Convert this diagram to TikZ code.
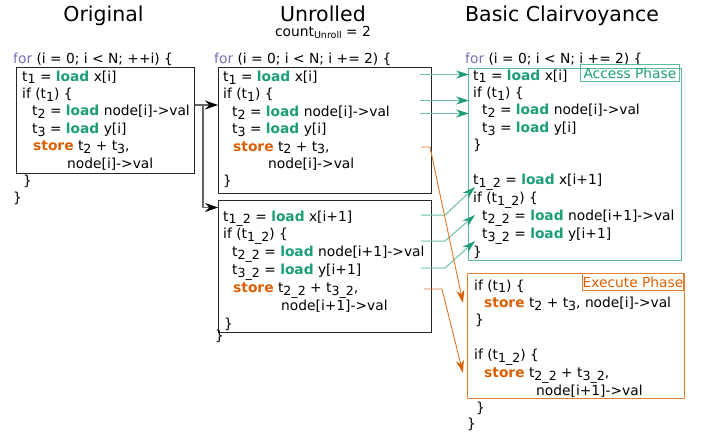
\documentclass[tikz,border=0pt]{standalone}
\usepackage{fontspec}
\setmainfont{DejaVu Sans}
\usetikzlibrary{arrows.meta}
\definecolor{dgreen}{HTML}{1B9E77}
\definecolor{dorange}{HTML}{D95F02}
\definecolor{dpurple}{HTML}{7570B3}
\newcommand{\kld}{\textbf{\color{dgreen}load}}
\newcommand{\kst}{\textbf{\color{dorange}store}}
\newcommand{\kfor}{{\color{dpurple}for}}
\newcommand{\sbx}[1]{\raisebox{-2.8pt}{\fontsize{12.6}{12}\selectfont #1}}
\newcommand{\ind}[1]{\hspace*{#1pt}}
\begin{document}
\begin{tikzpicture}[x=1pt,y=-1pt,
  code/.style={anchor=base west, inner sep=0pt, font=\fontsize{13.8}{17.4}\selectfont},
  title/.style={anchor=base, inner sep=0pt, font=\fontsize{20.5}{24}\selectfont},
  blk/.style={draw=black!85, line width=0.9pt, anchor=north west, inner sep=0pt},
  accbox/.style={draw=dgreen!70, line width=0.9pt, anchor=north west, inner sep=0pt},
  exebox/.style={draw=dorange!80, line width=0.9pt, anchor=north west, inner sep=0pt},
  tag/.style={line width=0.9pt, anchor=north west, inner sep=0pt, font=\fontsize{13.8}{17}\selectfont},
  conn/.style={draw=black!60, line width=1.1pt, -{Stealth[length=13pt,width=9pt,color=black]}},
  gconn/.style={draw=dgreen!65, line width=1pt, -{Stealth[length=13pt,width=8pt,color=dgreen]}},
  oconn/.style={draw=dorange!85, line width=0.9pt, -{Stealth[length=13pt,width=8pt,color=dorange]}}
]
\useasboundingbox (0,0) rectangle (702,434);

% titles
\node[title] (t-orig) at (103.5,21.5) {Original};
\node[title] (t-unr) at (323,21.5) {Unrolled};
\node[code, anchor=base] (t-count) at (323,36) {count\raisebox{-2.5pt}{\fontsize{9.5}{10}\selectfont Unroll} = 2};
\node[title] (t-bc) at (562,21.5) {Basic Clairvoyance};

% ---------- Original ----------
\node[code] (o-for) at (13,63) {\kfor{} (i = 0; i < N; ++i) \{};
\node[blk, minimum width=178pt, minimum height=106pt] (obox) at (16,67) {};
\node[code] (o-code) at (22,81) {\begin{tabular}[t]{@{}l@{}}
t\sbx{1} = \kld{} x[i]\\
if (t\sbx{1}) \{\\
\ind{10}t\sbx{2} = \kld{} node[i]->val\\
\ind{10}t\sbx{3} = \kld{} y[i]\\
\ind{11}\kst{} t\sbx{2} + t\sbx{3},\\
\ind{45}node[i]->val\\
\ind{1}\}
\end{tabular}};
\node[code] (o-end) at (13,202.8) {\}};

% ---------- Unrolled ----------
\node[code] (u-for) at (214,63) {\kfor{} (i = 0; i < N; i += 2) \{};
\node[blk, minimum width=213pt, minimum height=126pt] (ubox1) at (218,67) {};
\node[code] (u-code1) at (223,81.5) {\begin{tabular}[t]{@{}l@{}}
t\sbx{1} = \kld{} x[i]\\
if (t\sbx{1}) \{\\
\ind{9}t\sbx{2} = \kld{} node[i]->val\\
\ind{9}t\sbx{3} = \kld{} y[i]\\
\ind{10}\kst{} t\sbx{2} + t\sbx{3},\\
\ind{45}node[i]->val\\
\}
\end{tabular}};
\node[blk, minimum width=213pt, minimum height=132pt] (ubox2) at (218,200) {};
\node[code] (u-code2) at (223,221) {\begin{tabular}[t]{@{}l@{}}
t\sbx{1\_2} = \kld{} x[i+1]\\
if (t\sbx{1\_2}) \{\\
\ind{9}t\sbx{2\_2} = \kld{} node[i+1]->val\\
\ind{9}t\sbx{3\_2} = \kld{} y[i+1]\\
\ind{10}\kst{} t\sbx{2\_2} + t\sbx{3\_2},\\
\ind{58}node[i+1]->val\\
\ind{1}\}
\end{tabular}};
\node[code] (u-end) at (215,340) {\}};

% ---------- Basic Clairvoyance ----------
\node[code] (b-for) at (465,63) {\kfor{} (i = 0; i < N; i += 2) \{};
\node[accbox, minimum width=213pt, minimum height=192pt] (acc) at (468,68) {};
\node[tag, draw=dgreen!70, text=dgreen, minimum width=99pt, minimum height=17pt] (acc-tag) at (580,64) {Access Phase};
\node[code] (a-code) at (473,80) {\begin{tabular}[t]{@{}l@{}}
t\sbx{1} = \kld{} x[i]\\
if (t\sbx{1}) \{\\
\ind{9}t\sbx{2} = \kld{} node[i]->val\\
\ind{9}t\sbx{3} = \kld{} y[i]\\
\}\\
\\
t\sbx{1\_2} = \kld{} x[i+1]\\
if (t\sbx{1\_2}) \{\\
\ind{9}t\sbx{2\_2} = \kld{} node[i+1]->val\\
\ind{9}t\sbx{3\_2} = \kld{} y[i+1]\\
\}
\end{tabular}};

\node[exebox, minimum width=217pt, minimum height=125pt] (exe) at (467,273) {};
\node[tag, draw=dorange!80, text=dorange, minimum width=101pt, minimum height=17pt] (exe-tag) at (582,273) {Execute Phase};
\node[code] (e-code) at (474,290) {\begin{tabular}[t]{@{}l@{}}
if (t\sbx{1}) \{\\
\ind{10}\kst{} t\sbx{2} + t\sbx{3}, node[i]->val\\
\ind{1}\}\\
\\
if (t\sbx{1\_2}) \{\\
\ind{10}\kst{} t\sbx{2\_2} + t\sbx{3\_2},\\
\ind{62}node[i+1]->val\\
\ind{2}\}
\end{tabular}};
\node[code] (e-end) at (467,428) {\}};

% ---------- connectors: original -> unrolled ----------
\coordinate (j1) at (203,105);
\coordinate (j2) at (203,207.5);
\draw[conn] (obox.east |- j1) -- (ubox1.west |- j1);
\draw[conn] (j1) -- (j2) -- (ubox2.west |- j2);

% ---------- green connectors ----------
\coordinate (gs1) at (420,74.5);   \coordinate (ge1) at (469,74.5);
\coordinate (gs2) at (420,100.5);  \coordinate (ge2) at (469,100.5);
\coordinate (gs3) at (420,113.5);  \coordinate (ge3) at (469,113.5);
\draw[gconn] (gs1) -- (ge1);
\draw[gconn] (gs2) -- (ge2);
\draw[gconn] (gs3) -- (ge3);
\coordinate (gs4) at (421,215);  \coordinate (gk4) at (445,215);  \coordinate (ge4) at (475,187);
\coordinate (gs5) at (421,241);  \coordinate (gk5) at (445,241);  \coordinate (ge5) at (475,215);
\coordinate (gs6) at (421,268);  \coordinate (gk6) at (445,268);  \coordinate (ge6) at (475,241);
\draw[gconn] (gs4) -- (gk4) -- (ge4);
\draw[gconn] (gs5) -- (gk5) -- (ge5);
\draw[gconn] (gs6) -- (gk6) -- (ge6);

% ---------- orange connectors ----------
\coordinate (os1) at (421,147);  \coordinate (ok1) at (430,147);  \coordinate (oe1) at (463,303);
\coordinate (os2) at (424,289);  \coordinate (ok2) at (442,289);  \coordinate (oe2) at (463,373);
\draw[oconn] (os1) -- (ok1) -- (oe1);
\draw[oconn] (os2) -- (ok2) -- (oe2);
\end{tikzpicture}
\end{document}
